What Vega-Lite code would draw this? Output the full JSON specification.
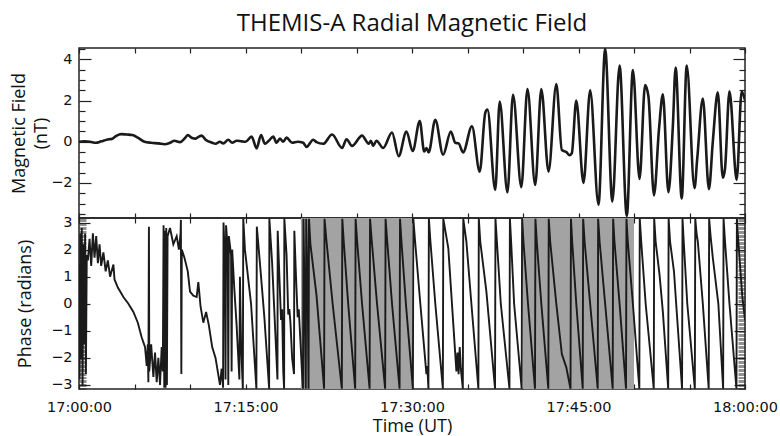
{
  "$schema": "https://vega.github.io/schema/vega-lite/v6.json",
  "background": "white",
  "padding": {"left": 9, "right": 0, "top": 12, "bottom": 0},
  "autosize": {"type": "pad"},
  "title": {"text": "THEMIS-A Radial Magnetic Field", "font": "Open Sans", "fontSize": 24, "fontWeight": "normal", "color": "#111", "anchor": "middle", "frame": "group", "offset": 4},
  "config": {
    "font": "Open Sans",
    "view": {"stroke": "#222", "strokeWidth": 1.5},
    "axis": {"grid": false, "domain": false, "labelFont": "DejaVu Sans", "labelFontSize": 14.5, "labelColor": "#111", "titleFont": "Open Sans", "titleFontSize": 18, "titleFontWeight": "normal", "titleColor": "#111", "tickColor": "#222", "labelOverlap": false, "labelFlush": false}
  },
  "datasets": {
    "shade": [{"s": 20, "e": 30}, {"s": 40, "e": 50}],
    "mag": [
      {"t":0,"v":0.0},{"t":0.5,"v":0.02},{"t":1.0,"v":0.0},{"t":1.5,"v":-0.05},{"t":2.0,"v":0.02},{"t":2.5,"v":0.1},{"t":3.0,"v":0.15},{"t":3.4,"v":0.3},{"t":3.8,"v":0.37},{"t":4.3,"v":0.35},{"t":4.8,"v":0.33},{"t":5.3,"v":0.2},{"t":5.9,"v":0.0},{"t":6.5,"v":-0.05},{"t":7.2,"v":-0.08},{"t":7.7,"v":-0.12},{"t":8.2,"v":-0.05},{"t":8.6,"v":0.05},{"t":9.1,"v":-0.02},{"t":9.5,"v":0.15},{"t":9.8,"v":0.32},{"t":10.2,"v":0.18},{"t":10.5,"v":0.15},{"t":10.8,"v":0.25},{"t":11.05,"v":0.3},{"t":11.4,"v":0.1},{"t":12.0,"v":-0.05},{"t":12.3,"v":-0.1},{"t":12.7,"v":0.0},{"t":13.0,"v":-0.08},{"t":13.45,"v":0.1},{"t":13.8,"v":-0.05},{"t":14.2,"v":0.05},{"t":14.65,"v":0.02},{"t":15.0,"v":0.0},{"t":15.55,"v":0.25},{"t":16.0,"v":-0.32},{"t":16.4,"v":0.33},{"t":16.75,"v":-0.1},{"t":17.1,"v":0.05},{"t":17.5,"v":0.25},{"t":17.8,"v":-0.05},{"t":18.1,"v":0.15},{"t":18.4,"v":0.0},{"t":18.7,"v":0.2},{"t":19.2,"v":-0.05},{"t":19.7,"v":0.0},{"t":20.2,"v":-0.05},{"t":20.5,"v":-0.25},{"t":21.1,"v":0.1},{"t":21.4,"v":-0.02},{"t":22.0,"v":-0.1},{"t":22.8,"v":0.35},{"t":23.7,"v":-0.3},{"t":24.1,"v":0.12},{"t":24.6,"v":-0.2},{"t":25.5,"v":0.3},{"t":26.1,"v":-0.1},{"t":26.3,"v":0.05},{"t":26.5,"v":-0.2},{"t":26.8,"v":0.05},{"t":27.4,"v":-0.3},{"t":28.2,"v":0.45},{"t":28.8,"v":-0.7},{"t":29.5,"v":0.5},{"t":30.06,"v":-0.45},{"t":30.7,"v":1.0},{"t":31.1,"v":-0.47},{"t":31.3,"v":-0.3},{"t":31.5,"v":-0.52},{"t":32.1,"v":1.07},{"t":32.8,"v":-0.63},{"t":33.5,"v":0.5},{"t":33.9,"v":-0.05},{"t":34.2,"v":-0.08},{"t":34.6,"v":-0.52},{"t":35.4,"v":0.75},{"t":36.1,"v":-1.45},{"t":36.6,"v":1.4},{"t":36.8,"v":1.56},{"t":37.5,"v":-2.34},{"t":37.9,"v":1.95},{"t":38.6,"v":-2.45},{"t":39.1,"v":2.28},{"t":39.85,"v":-2.2},{"t":40.4,"v":2.56},{"t":41.1,"v":-2.1},{"t":41.65,"v":2.56},{"t":42.3,"v":-1.45},{"t":43.0,"v":2.8},{"t":43.5,"v":-0.4},{"t":43.9,"v":-0.5},{"t":44.2,"v":-0.65},{"t":44.4,"v":-0.55},{"t":44.8,"v":2.0},{"t":45.45,"v":-2.0},{"t":46.05,"v":2.5},{"t":46.8,"v":-3.05},{"t":47.4,"v":4.5},{"t":48.05,"v":-2.9},{"t":48.7,"v":3.7},{"t":49.35,"v":-3.6},{"t":49.9,"v":3.48},{"t":50.5,"v":-1.8},{"t":51.0,"v":2.75},{"t":51.3,"v":2.2},{"t":51.8,"v":-2.6},{"t":52.25,"v":0.6},{"t":52.6,"v":2.3},{"t":53.1,"v":-2.45},{"t":53.5,"v":0.75},{"t":53.75,"v":3.6},{"t":54.3,"v":-2.75},{"t":54.75,"v":3.7},{"t":55.45,"v":-2.25},{"t":55.7,"v":-0.8},{"t":56.2,"v":2.1},{"t":56.75,"v":-2.3},{"t":57.1,"v":0.0},{"t":57.55,"v":2.4},{"t":58.0,"v":-1.75},{"t":58.2,"v":-1.3},{"t":58.6,"v":2.45},{"t":59.25,"v":-1.85},{"t":59.7,"v":2.45},{"t":60,"v":2.0}
    ],
    "phase": [
      {"t":0.0,"v":1.5},{"t":0.05,"v":-2.8},{"t":0.12,"v":2.6},{"t":0.18,"v":-2.0},{"t":0.25,"v":2.8},{"t":0.32,"v":-3.0},{"t":0.4,"v":2.2},{"t":0.48,"v":-1.5},{"t":0.55,"v":2.6},{"t":0.62,"v":-2.6},{"t":0.7,"v":1.8},{"t":0.8,"v":1.6},{"t":0.95,"v":2.4},{"t":1.1,"v":1.4},{"t":1.25,"v":2.6},{"t":1.4,"v":1.7},{"t":1.55,"v":2.5},{"t":1.7,"v":1.5},{"t":1.85,"v":2.2},{"t":2.0,"v":1.4},{"t":2.2,"v":1.9},{"t":2.4,"v":1.2},{"t":2.6,"v":1.6},{"t":2.8,"v":1.0},{"t":3.0,"v":1.3},{"t":3.1,"v":1.45},{"t":3.2,"v":0.9},{"t":3.5,"v":0.6},{"t":4.0,"v":0.25},{"t":4.45,"v":0.0},{"t":4.9,"v":-0.3},{"t":5.3,"v":-0.7},{"t":5.65,"v":-1.25},{"t":5.95,"v":-1.6},{"t":6.1,"v":-2.3},{"t":6.2,"v":-1.5},{"t":6.25,"v":-2.9},{"t":6.3,"v":2.85},{"t":6.33,"v":-2.5},{"t":6.5,"v":-1.5},{"t":6.7,"v":-2.7},{"t":6.85,"v":-1.8},{"t":7.0,"v":-2.9},{"t":7.15,"v":-2.0},{"t":7.3,"v":-3.0},{"t":7.45,"v":-1.6},{"t":7.55,"v":-2.5},{"t":7.62,"v":2.9},{"t":7.68,"v":-3.1},{"t":7.74,"v":2.7},{"t":7.8,"v":-3.1},{"t":7.86,"v":2.8},{"t":7.92,"v":-3.0},{"t":7.98,"v":2.5},{"t":8.2,"v":2.8},{"t":8.5,"v":2.2},{"t":8.8,"v":2.5},{"t":9.0,"v":2.0},{"t":9.15,"v":2.6},{"t":9.18,"v":3.1},{"t":9.22,"v":-2.6},{"t":9.26,"v":2.0},{"t":9.5,"v":1.7},{"t":9.8,"v":1.2},{"t":10.0,"v":0.45},{"t":10.3,"v":0.3},{"t":10.6,"v":0.25},{"t":10.75,"v":0.8},{"t":10.95,"v":-0.1},{"t":11.2,"v":-0.7},{"t":11.45,"v":-0.3},{"t":11.7,"v":-0.8},{"t":12.0,"v":-1.6},{"t":12.3,"v":-2.0},{"t":12.7,"v":-3.0},{"t":12.85,"v":-2.4},{"t":12.98,"v":-3.1},{"t":13.02,"v":3.0},{"t":13.15,"v":1.5},{"t":13.2,"v":-2.8},{"t":13.25,"v":2.9},{"t":13.4,"v":2.0},{"t":13.45,"v":-3.0},{"t":13.5,"v":2.5},{"t":13.7,"v":1.8},{"t":13.75,"v":-2.5},{"t":13.8,"v":2.0},{"t":14.0,"v":0.5},{"t":14.2,"v":-0.8},{"t":14.45,"v":-2.8},{"t":14.5,"v":1.0},{"t":14.6,"v":-1.5},{"t":14.76,"v":-3.14},{"t":14.8,"v":3.14},
      {"t":14.95,"v":2.0},{"t":15.5,"v":0.0},{"t":15.98,"v":-3.14},{"t":16.02,"v":2.85},{"t":16.3,"v":1.5},{"t":16.7,"v":-0.5},{"t":17.13,"v":-3.14},{"t":17.15,"v":3.14},{"t":17.4,"v":1.5},{"t":17.6,"v":-0.3},{"t":17.88,"v":-2.8},{"t":17.9,"v":2.7},{"t":18.1,"v":0.5},{"t":18.2,"v":-0.6},{"t":18.3,"v":-0.2},{"t":18.4,"v":-2.5},{"t":18.48,"v":-3.14},{"t":18.5,"v":3.14},{"t":18.7,"v":1.8},{"t":18.85,"v":-0.4},{"t":18.95,"v":-0.2},{"t":19.05,"v":-0.7},{"t":19.2,"v":-2.0},{"t":19.37,"v":-2.6},{"t":19.4,"v":2.7},{"t":19.55,"v":1.0},{"t":19.7,"v":-0.5},{"t":19.8,"v":-0.2},{"t":19.9,"v":-1.0},{"t":20.1,"v":-2.6},{"t":20.18,"v":-3.14},{"t":20.22,"v":3.14},{"t":20.35,"v":-0.5},{"t":20.43,"v":-3.14},{"t":20.47,"v":3.14},{"t":20.6,"v":0.5},{"t":20.68,"v":-3.14},{"t":20.72,"v":3.14},{"t":20.85,"v":2.2},{"t":21.4,"v":0.3},{"t":22.08,"v":-3.14},
      {"t":22.12,"v":3.14},{"t":22.3,"v":2.3},{"t":22.85,"v":0.0},{"t":23.68,"v":-3.14},
      {"t":23.72,"v":3.14},{"t":23.85,"v":2.3},{"t":24.25,"v":0.0},{"t":24.88,"v":-3.14},
      {"t":24.92,"v":3.14},{"t":25.06,"v":2.3},{"t":25.5,"v":0.0},{"t":26.18,"v":-3.14},
      {"t":26.22,"v":3.14},{"t":26.38,"v":2.3},{"t":26.85,"v":0.0},{"t":27.58,"v":-3.14},
      {"t":27.62,"v":3.14},{"t":27.77,"v":2.3},{"t":28.2,"v":0.0},{"t":28.88,"v":-3.14},
      {"t":28.92,"v":3.14},{"t":29.05,"v":2.3},{"t":29.45,"v":0.0},{"t":30.08,"v":-3.14},
      {"t":30.12,"v":3.14},{"t":30.28,"v":2.3},{"t":30.75,"v":0.0},{"t":31.3,"v":-2.6},{"t":31.38,"v":-2.3},{"t":31.45,"v":-2.9},{"t":31.48,"v":-3.14},
      {"t":31.52,"v":3.14},{"t":31.66,"v":2.3},{"t":32.1,"v":0.0},{"t":32.78,"v":-3.14},
      {"t":32.82,"v":3.14},{"t":33.27,"v":2.06},{"t":34.0,"v":-2.5},{"t":34.1,"v":-1.8},{"t":34.2,"v":-2.6},{"t":34.3,"v":-1.6},{"t":34.4,"v":-2.4},{"t":34.58,"v":-3.14},
      {"t":34.62,"v":3.14},{"t":34.9,"v":2.3},{"t":35.35,"v":0.0},{"t":35.98,"v":-3.14},
      {"t":36.02,"v":3.14},{"t":36.15,"v":2.3},{"t":36.7,"v":0.46},{"t":37.48,"v":-3.14},
      {"t":37.52,"v":3.14},{"t":37.65,"v":2.3},{"t":38.0,"v":0.0},{"t":38.78,"v":-3.14},
      {"t":38.82,"v":3.14},{"t":38.93,"v":2.3},{"t":39.2,"v":0.0},{"t":39.88,"v":-3.14},
      {"t":39.92,"v":3.14},{"t":40.04,"v":2.3},{"t":40.45,"v":0.0},{"t":41.08,"v":-3.14},
      {"t":41.12,"v":3.14},{"t":41.24,"v":2.3},{"t":41.65,"v":0.0},{"t":42.28,"v":-3.14},
      {"t":42.32,"v":3.14},{"t":42.45,"v":2.3},{"t":43.0,"v":0.0},{"t":43.5,"v":-1.86},{"t":43.9,"v":-2.35},{"t":44.28,"v":-3.14},
      {"t":44.32,"v":3.14},{"t":44.43,"v":2.3},{"t":44.8,"v":0.0},{"t":45.38,"v":-3.14},
      {"t":45.42,"v":3.14},{"t":45.55,"v":2.3},{"t":46.05,"v":0.0},{"t":46.73,"v":-3.14},
      {"t":46.77,"v":3.14},{"t":46.9,"v":2.3},{"t":47.4,"v":0.0},{"t":48.08,"v":-3.14},
      {"t":48.12,"v":3.14},{"t":48.24,"v":2.3},{"t":48.7,"v":0.0},{"t":49.28,"v":-3.14},
      {"t":49.32,"v":3.14},{"t":49.44,"v":2.3},{"t":49.9,"v":0.0},{"t":50.48,"v":-3.14},
      {"t":50.52,"v":3.14},{"t":50.65,"v":2.3},{"t":51.05,"v":0.0},{"t":51.78,"v":-3.14},
      {"t":51.82,"v":3.14},{"t":51.95,"v":2.3},{"t":52.3,"v":1.08},{"t":52.6,"v":-0.3},{"t":53.08,"v":-3.14},
      {"t":53.12,"v":3.14},{"t":53.25,"v":2.3},{"t":53.6,"v":1.2},{"t":53.8,"v":0.0},{"t":54.33,"v":-3.14},
      {"t":54.37,"v":3.14},{"t":54.48,"v":2.3},{"t":54.8,"v":0.0},{"t":55.48,"v":-3.14},
      {"t":55.52,"v":3.14},{"t":55.65,"v":2.55},{"t":55.75,"v":2.3},{"t":56.2,"v":0.0},{"t":56.73,"v":-3.14},
      {"t":56.77,"v":3.14},{"t":56.9,"v":2.5},{"t":57.1,"v":1.7},{"t":57.6,"v":0.0},{"t":58.03,"v":-3.14},
      {"t":58.07,"v":3.14},{"t":58.2,"v":2.3},{"t":58.6,"v":0.0},{"t":59.23,"v":-3.14},
      {"t":59.27,"v":3.14},{"t":59.4,"v":2.3},{"t":59.75,"v":0.3},{"t":60,"v":-0.6}
    ]
  },
  "spacing": 0,
  "bounds": "flush",
  "vconcat": [
    {
      "width": 666,
      "height": 170,
      "layer": [
        {
          "data": {"name": "mag"},
          "mark": {"type": "line", "color": "#1a1a1a", "strokeWidth": 2.6, "interpolate": "monotone", "clip": true},
          "encoding": {
            "x": {"field": "t", "type": "quantitative", "scale": {"domain": [0, 60], "nice": false, "zero": false},
              "axis": {"orient": "bottom", "values": [0,5,10,15,20,25,30,35,40,45,50,55,60], "labels": false, "tickSize": -5, "tickWidth": 1.2, "title": null}},
            "y": {"field": "v", "type": "quantitative", "scale": {"domain": [-3.7, 4.55], "nice": false, "zero": false},
              "axis": {"orient": "left", "values": [-3.5,-3,-2.5,-2,-1.5,-1,-0.5,0,0.5,1,1.5,2,2.5,3,3.5,4,4.5],
                "tickSize": {"condition": {"test": "datum.value % 2 == 0", "value": -12}, "value": -6},
                "tickWidth": 1.2,
                "labelExpr": "datum.value % 2 == 0 ? format(datum.value, 'd') : ''",
                "labelPadding": 19,
                "title": ["Magnetic Field", "(nT)"], "titleLineHeight": 22, "titlePadding": 0}}
          }
        },
        {
          "data": {"name": "mag"},
          "mark": {"type": "line", "opacity": 0},
          "encoding": {
            "x": {"field": "t", "type": "quantitative",
              "axis": {"orient": "top", "values": [0,5,10,15,20,25,30,35,40,45,50,55,60], "labels": false, "tickSize": -5, "tickWidth": 1.2, "title": null}},
            "y": {"field": "v", "type": "quantitative",
              "axis": {"orient": "right", "values": [-3.5,-3,-2.5,-2,-1.5,-1,-0.5,0,0.5,1,1.5,2,2.5,3,3.5,4,4.5],
                "tickSize": {"condition": {"test": "datum.value % 2 == 0", "value": -12}, "value": -6},
                "tickWidth": 1.2, "labels": false, "title": null}}
          }
        },
        {
          "mark": {"type": "text", "text": "(a)", "align": "left", "baseline": "middle", "font": "Open Sans", "fontSize": 15.5, "color": "#111"},
          "encoding": {
            "x": {"datum": 1.5, "type": "quantitative", "axis": null},
            "y": {"datum": 4.0, "type": "quantitative", "axis": null}
          }
        }
      ],
      "resolve": {"axis": {"x": "independent", "y": "independent"}}
    },
    {
      "width": 666,
      "height": 171,
      "layer": [
        {
          "data": {"name": "shade"},
          "mark": {"type": "rect", "color": "#a3a3a3"},
          "encoding": {
            "x": {"field": "s", "type": "quantitative", "scale": {"domain": [0, 60], "nice": false, "zero": false}, "axis": null},
            "x2": {"field": "e"}
          }
        },
        {
          "data": {"name": "phase"},
          "mark": {"type": "line", "color": "#1a1a1a", "strokeWidth": 1.9, "clip": true},
          "encoding": {
            "x": {"field": "t", "type": "quantitative",
              "axis": {"orient": "bottom", "values": [0,5,10,15,20,25,30,35,40,45,50,55,60], "tickSize": -5, "tickWidth": 1.2, "labelPadding": 16,
                "labelExpr": "datum.value % 15 == 0 ? (datum.value == 60 ? '18:00:00' : '17:' + (datum.value < 10 ? '0' : '') + datum.value + ':00') : ''",
                "title": "Time (UT)", "titlePadding": 4}},
            "y": {"field": "v", "type": "quantitative", "scale": {"domain": [-3.15, 3.17], "nice": false, "zero": false},
              "axis": {"orient": "left", "tickCount": 130,
                "tickSize": {"condition": {"test": "abs(datum.value - round(datum.value)) < 0.001", "value": -11}, "value": -7},
                "tickWidth": {"condition": {"test": "abs(datum.value - round(datum.value)) < 0.001", "value": 1.2}, "value": 0.5},
                "labelExpr": "abs(datum.value - round(datum.value)) < 0.001 ? format(datum.value, 'd') : ''",
                "labelPadding": 18,
                "title": "Phase (radians)", "titlePadding": 16}}
          }
        },
        {
          "data": {"name": "phase"},
          "mark": {"type": "line", "opacity": 0},
          "encoding": {
            "x": {"field": "t", "type": "quantitative",
              "axis": {"orient": "top", "values": [0,5,10,15,20,25,30,35,40,45,50,55,60], "labels": false, "tickSize": -5, "tickWidth": 1.2, "title": null}},
            "y": {"field": "v", "type": "quantitative",
              "axis": {"orient": "right", "tickCount": 130,
                "tickSize": {"condition": {"test": "abs(datum.value - round(datum.value)) < 0.001", "value": -11}, "value": -7},
                "tickWidth": {"condition": {"test": "abs(datum.value - round(datum.value)) < 0.001", "value": 1.2}, "value": 0.5},
                "labels": false, "title": null}}
          }
        },
        {
          "mark": {"type": "text", "text": "(b)", "align": "left", "baseline": "middle", "font": "Open Sans", "fontSize": 15.5, "color": "#111"},
          "encoding": {
            "x": {"datum": 1.5, "type": "quantitative", "axis": null},
            "y": {"datum": 2.65, "type": "quantitative", "axis": null}
          }
        }
      ],
      "resolve": {"axis": {"x": "independent", "y": "independent"}}
    }
  ]
}
